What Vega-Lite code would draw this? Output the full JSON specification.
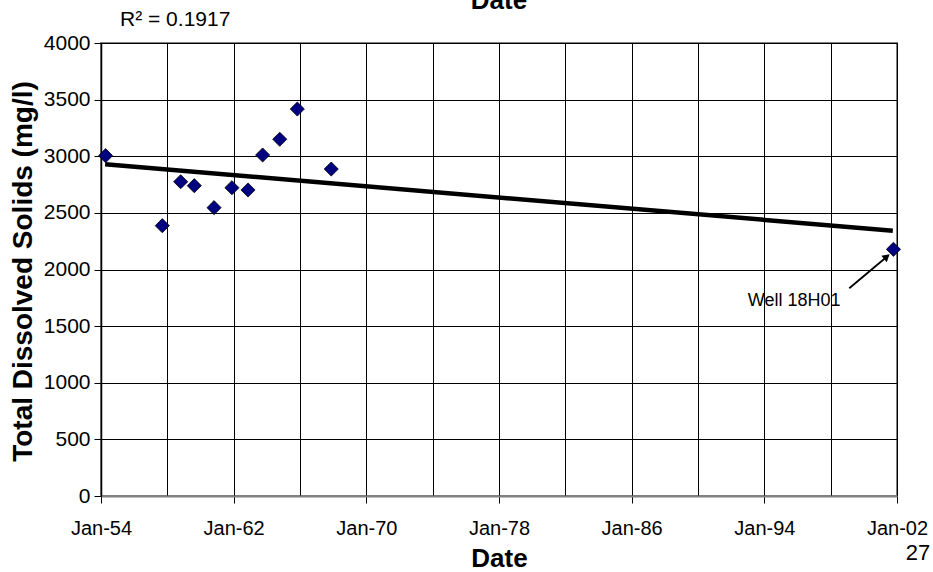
{
  "$schema": "https://vega.github.io/schema/vega-lite/v6.json",
  "width": 796,
  "height": 453,
  "autosize": {"type": "none"},
  "padding": {"left": 101, "top": 43, "right": 36, "bottom": 76},
  "background": "white",
  "config": {
    "font": "Liberation Sans",
    "view": {"stroke": "#808080", "strokeWidth": 2}
  },
  "datasets": {
    "pts": [
      {"date": "1954-04-12T00:00", "value": 3005},
      {"date": "1957-09-12T00:00", "value": 2387},
      {"date": "1958-10-22T00:00", "value": 2775},
      {"date": "1959-08-18T00:00", "value": 2740},
      {"date": "1960-10-26T00:00", "value": 2546},
      {"date": "1961-11-24T00:00", "value": 2722},
      {"date": "1962-11-13T00:00", "value": 2702},
      {"date": "1963-10-01T00:00", "value": 3011},
      {"date": "1964-10-12T00:00", "value": 3150},
      {"date": "1965-11-03T00:00", "value": 3417},
      {"date": "1967-11-20T00:00", "value": 2887},
      {"date": "2001-10-15T00:00", "value": 2178}
    ],
    "trend": [
      {"date": "1954-04-01T00:00", "value": 2929},
      {"date": "2001-10-01T00:00", "value": 2343}
    ],
    "arrow": [
      {"date": "1999-02-15T00:00", "value": 1834, "date2": "2001-05-22T00:00", "value2": 2113}
    ],
    "well": [{"date": "1993-01-01T00:00", "value": 1722, "label": "Well 18H01"}],
    "r2": [{"date": "1955-02-24T00:00", "value": 4203, "label": "R² = 0.1917"}],
    "toptitle": [{"date": "1978-01-01T00:00", "value": 4300, "label": "Date"}],
    "page": [{"date": "2004-01-01T00:00", "value": -500, "label": "27"}]
  },
  "encoding": {
    "x": {
      "field": "date",
      "type": "temporal",
      "scale": {"domain": ["1954-01-01T00:00", "2002-01-01T00:00"]},
      "axis": {
        "title": "Date",
        "titleFontSize": 26,
        "titleFontWeight": "bold",
        "titleColor": "black",
        "titlePadding": 7,
        "values": [
          {"year": 1954, "month": 1, "date": 1},
          {"year": 1958, "month": 1, "date": 1},
          {"year": 1962, "month": 1, "date": 1},
          {"year": 1966, "month": 1, "date": 1},
          {"year": 1970, "month": 1, "date": 1},
          {"year": 1974, "month": 1, "date": 1},
          {"year": 1978, "month": 1, "date": 1},
          {"year": 1982, "month": 1, "date": 1},
          {"year": 1986, "month": 1, "date": 1},
          {"year": 1990, "month": 1, "date": 1},
          {"year": 1994, "month": 1, "date": 1},
          {"year": 1998, "month": 1, "date": 1},
          {"year": 2002, "month": 1, "date": 1}
        ],
        "labelExpr": "(year(datum.value) - 1954) % 8 == 0 ? timeFormat(datum.value, '%b-%y') : ''",
        "labelFontSize": 20,
        "labelColor": "black",
        "labelPadding": 15,
        "labelFlush": false,
        "labelOverlap": false,
        "grid": true,
        "gridColor": "black",
        "gridWidth": 1,
        "gridOpacity": 1,
        "domainColor": "#808080",
        "domainWidth": 2,
        "tickColor": "black",
        "tickSize": 7,
        "tickOpacity": {"condition": {"test": "(year(datum.value) - 1954) % 8 != 0", "value": 0}, "value": 1}
      }
    },
    "y": {
      "field": "value",
      "type": "quantitative",
      "scale": {"domain": [0, 4000], "nice": false, "zero": true},
      "axis": {
        "title": "Total Dissolved Solids (mg/l)",
        "titleFontSize": 28,
        "titleFontWeight": "bold",
        "titleColor": "black",
        "titleAngle": 270,
        "titleX": -78,
        "titleY": 228,
        "titleAlign": "center",
        "titleBaseline": "middle",
        "values": [0, 500, 1000, 1500, 2000, 2500, 3000, 3500, 4000],
        "format": "d",
        "labelFontSize": 21,
        "labelColor": "black",
        "labelPadding": 4,
        "grid": true,
        "gridColor": "black",
        "gridWidth": 1,
        "gridOpacity": 1,
        "domainColor": "black",
        "domainWidth": 1.5,
        "tickColor": "black",
        "tickSize": 7
      }
    }
  },
  "layer": [
    {
      "data": {"name": "trend"},
      "mark": {"type": "line", "color": "black", "strokeWidth": 4.5}
    },
    {
      "data": {"name": "pts"},
      "mark": {"type": "point", "shape": "diamond", "filled": true, "fill": "#000080", "stroke": "black", "strokeWidth": 0.8, "size": 200, "opacity": 1}
    },
    {
      "data": {"name": "arrow"},
      "mark": {"type": "rule", "color": "black", "strokeWidth": 1.8},
      "encoding": {
        "x2": {"field": "date2"},
        "y2": {"field": "value2"}
      }
    },
    {
      "data": {"name": "arrow"},
      "mark": {"type": "point", "shape": "triangle-up", "filled": true, "color": "black", "size": 70, "angle": 50, "opacity": 1},
      "encoding": {
        "x": {"field": "date2", "type": "temporal"},
        "y": {"field": "value2", "type": "quantitative"}
      }
    },
    {
      "data": {"name": "well"},
      "mark": {"type": "text", "align": "left", "baseline": "middle", "fontSize": 18, "color": "black"},
      "encoding": {"text": {"field": "label"}}
    },
    {
      "data": {"name": "r2"},
      "mark": {"type": "text", "align": "left", "baseline": "middle", "fontSize": 21, "color": "black"},
      "encoding": {"text": {"field": "label"}}
    },
    {
      "data": {"name": "toptitle"},
      "mark": {"type": "text", "align": "center", "baseline": "alphabetic", "fontSize": 26, "fontWeight": "bold", "color": "black"},
      "encoding": {"text": {"field": "label"}}
    },
    {
      "data": {"name": "page"},
      "mark": {"type": "text", "align": "right", "baseline": "middle", "fontSize": 22, "color": "black"},
      "encoding": {"text": {"field": "label"}}
    }
  ]
}
